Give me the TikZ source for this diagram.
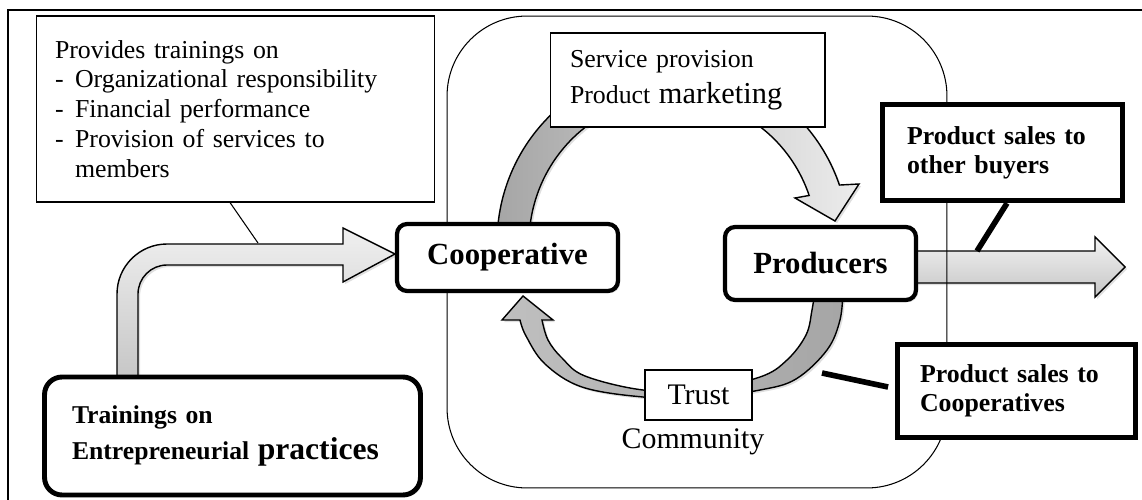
\documentclass[tikz,border=0pt]{standalone}
\usepackage{fontspec}
\setmainfont{Liberation Serif}
\usetikzlibrary{calc,shadows}
\begin{document}
\begin{tikzpicture}[x=0.02cm, y=-0.02cm,
    thinbox/.style={draw, line width=0.6pt, fill=white, inner sep=0pt},
    roundbox/.style={draw, line width=2.4pt, fill=white, rounded corners=0.2cm, inner sep=0pt,
      font=\bfseries\fontsize{17.5}{20}\selectfont, softshadow},
    salesbox/.style={draw, line width=2.8pt, fill=white, inner sep=0pt, align=left,
      font=\bfseries\fontsize{14.7}{16.5}\selectfont},
    flowarrow/.style={draw, line width=0.8pt},
    softshadow/.style={drop shadow={shadow xshift=1.2pt, shadow yshift=-1.2pt, opacity=0.25}},
    callout/.style={line width=3.2pt}]
  \useasboundingbox (0,0) rectangle (1142,500);
  % outer frame
  \draw[line width=1pt] (8,500) -- (8,10) -- (1142,10);

  % arrows
  \draw[flowarrow, top color=gray!12, bottom color=gray!45, softshadow]
    (117,380) -- (117,294) arc[radius=50, start angle=180, end angle=270]
    -- (343,244) -- (343,228) -- (395,254) -- (343,282) -- (343,265)
    -- (167,265) arc[radius=29, start angle=270, end angle=180] -- (138,380) -- cycle;
  \draw[flowarrow, top color=gray!10, bottom color=gray!45, softshadow]
    (905,251) -- (1095,251) -- (1095,237) -- (1125,267) -- (1095,297) -- (1095,283) -- (905,283) -- cycle;
  \draw[flowarrow, left color=gray!70, right color=gray!15, softshadow]
    ($(673,243)+(185:176 and 178)$) arc[x radius=176, y radius=178, start angle=185, end angle=341]
    -- (859,184) -- (835,221) -- (795,198)
    -- ($(673,243)+(341:144 and 146)$) arc[x radius=144, y radius=146, start angle=341, end angle=185] -- cycle;
  \draw[flowarrow, left color=gray!50, right color=gray!70, softshadow]
    plot[smooth, tension=0.6] coordinates {(843,290) (840,320) (827,350) (796,379) (760,390) (700,398)
      (643,397) (582,387) (545,364) (526,336) (520,320)}
    -- (502,320) -- (523,296) -- (553,320)
    -- plot[smooth, tension=0.6] coordinates {(542,320) (548,340) (562,358) (585,376) (643,390) (700,390)
      (760,377) (787,360) (806,335) (812,310) (815,290)} -- cycle;

  % community
  \node[draw, line width=0.6pt, rounded corners=1.6cm, minimum width=10cm, minimum height=9.44cm] (community) at (697,252) {};

  % boxes
  \node[thinbox, minimum width=7.98cm, minimum height=3.72cm, text width=7.22cm, align=left,
    font=\fontsize{14.7}{17}\selectfont] (provides) at (235.5,109) {Provides trainings on\\
    \makebox[11.4pt][l]{-}Organizational responsibility\\
    \makebox[11.4pt][l]{-}Financial performance\\
    \makebox[11.4pt][l]{-}Provision of services to\\
    \hspace*{11.4pt}members};
  \node[thinbox, minimum width=5.5cm, minimum height=1.88cm, text width=4.7cm, align=left,
    font=\fontsize{14.7}{20.5}\selectfont] (service) at (687.5,80) {Service provision\\
    Product {\fontsize{17.3}{20}\selectfont marketing}};
  \node[salesbox, minimum width=4.8cm, minimum height=1.93cm, text width=3.82cm] (buyers) at (1002.5,152.5)
    {Product sales to\\other buyers};
  \node[salesbox, minimum width=4.76cm, minimum height=1.86cm, text width=3.86cm] (coopsales) at (1016.5,391)
    {Product sales to\\Cooperatives};
  \node[roundbox, minimum width=4.42cm, minimum height=1.34cm] (coop) at (507.5,257.5) {Cooperative};
  \node[roundbox, minimum width=3.82cm, minimum height=1.46cm] (producers) at (820.5,263.5) {Producers};
  \node[roundbox, line width=2.8pt, rounded corners=0.35cm, minimum width=7.52cm, minimum height=2.36cm,
    text width=6.42cm, align=left, font=\bfseries\fontsize{14.6}{21}\selectfont] (trainings) at (232.5,436)
    {Trainings on\\Entrepreneurial {\fontsize{18}{21}\selectfont practices}};
  \node[thinbox, minimum width=2.14cm, minimum height=1cm, font=\fontsize{17}{20}\selectfont] (trust) at (698.5,395) {Trust};
  \node[anchor=base, font=\fontsize{17}{20}\selectfont, inner sep=0pt] (commlabel) at (693,448) {Community};

  % callouts
  \coordinate (ltop) at (258,243);
  \coordinate (rtop) at (977,251);
  \coordinate (bend) at (822,373);
  \draw[line width=0.6pt] ($(provides.south)+(-5.5,0)$) -- (ltop);
  \draw[callout] ($(buyers.south)+(4.5,0)$) -- (rtop);
  \draw[callout] ($(coopsales.west)+(-7,-4)$) -- (bend);
\end{tikzpicture}
\end{document}
